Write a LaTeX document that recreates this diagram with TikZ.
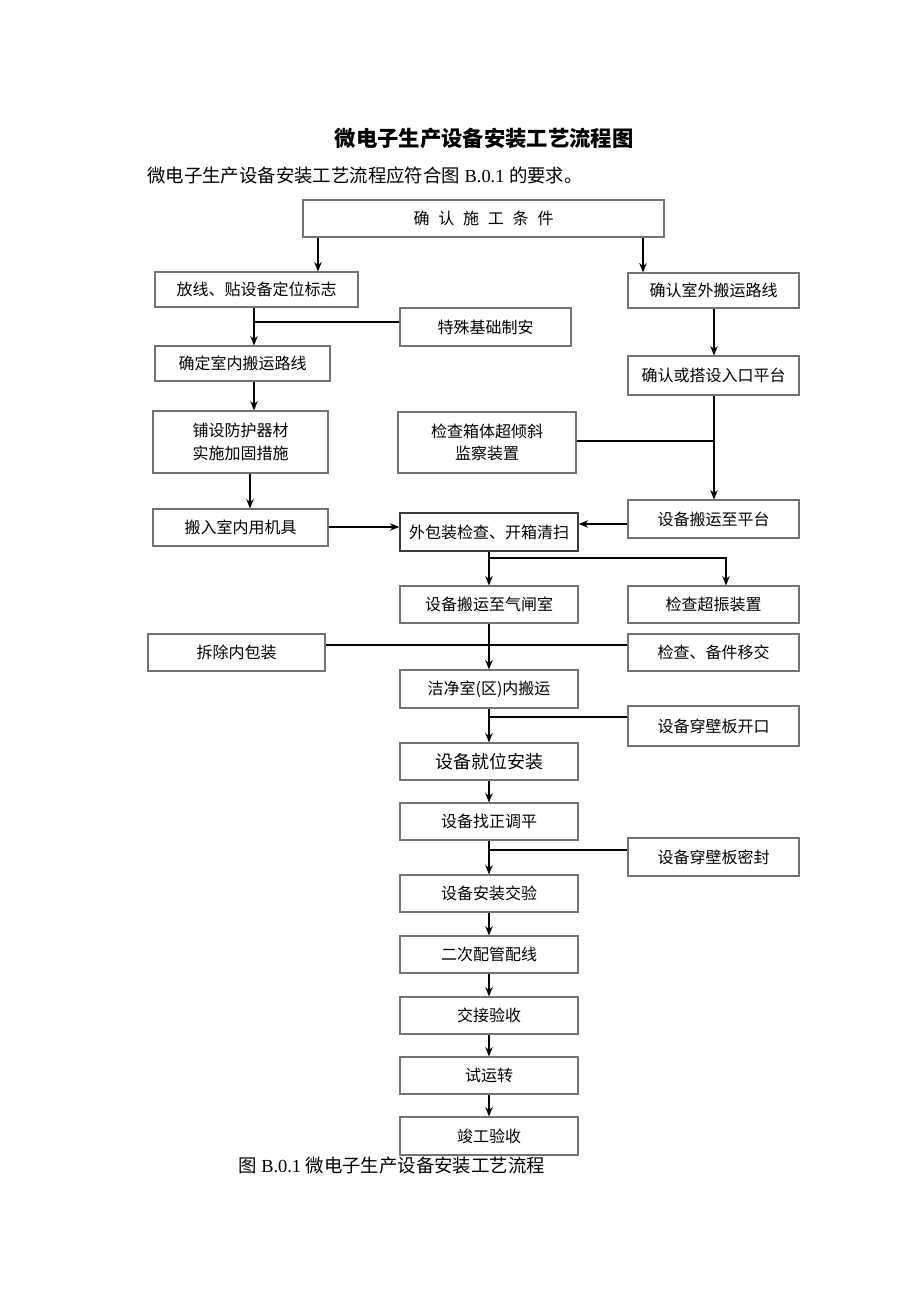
\documentclass[tikz,border=0pt]{standalone}
\usepackage{fontspec}
\setmainfont{Liberation Serif}
\newfontfamily\cjk{Noto Sans CJK SC}
\usetikzlibrary{arrows.meta}
\tikzset{
  box/.style={draw={rgb,255:red,115;green,115;blue,115}, line width=0.8pt, inner sep=0pt, align=center,
    font=\cjk\fontsize{12}{17}\selectfont},
  arr/.style={-{Stealth[length=7pt,width=5.5pt]}, line width=1.3pt},
  ln/.style={line width=1.3pt}
}
\newcommand\mybox[7][]{\node[box,#1,minimum width={(#4-#2)*0.75pt},minimum height={(#5-#3)*0.75pt}] (#6) at ({(#2+#4)/2},{(#3+#5)/2}) {#7};}
\begin{document}
\begin{tikzpicture}[x=0.75pt,y=-0.75pt]
\useasboundingbox[fill=white] (0,0) rectangle (920,1301);
\node[font=\cjk\bfseries\fontsize{16}{18}\selectfont] (title) at (484,138) {微电子生产设备安装工艺流程图};
\node[anchor=west,inner sep=0pt,font=\fontsize{13.8}{16}\selectfont] (sub) at (147,176) {{\cjk 微电子生产设备安装工艺流程应符合图} B.0.1 {\cjk 的要求。}};
% boxes
\mybox{303}{200}{664}{237}{top}{确\hspace{0.55em}认\hspace{0.55em}施\hspace{0.55em}工\hspace{0.55em}条\hspace{0.55em}件}
\mybox{155}{272}{358}{307}{fx}{放线、贴设备定位标志}
\mybox{628}{273}{799}{308}{sw}{确认室外搬运路线}
\mybox{400}{308}{571}{346}{ts}{特殊基础制安}
\mybox{155}{346}{330}{381}{sn}{确定室内搬运路线}
\mybox{628}{356}{799}{395}{rk}{确认或搭设入口平台}
\mybox{153}{411}{328}{473}{ps}{铺设防护器材\\实施加固措施}
\mybox{398}{412}{576}{473}{jc}{检查箱体超倾斜\\监察装置}
\mybox{153}{509}{328}{546}{br}{搬入室内用机具}
\mybox[line width=1.2pt,draw={rgb,255:red,60;green,60;blue,60}]{400}{513}{578}{551}{wb}{外包装检查、开箱清扫}
\mybox{628}{500}{799}{538}{pt}{设备搬运至平台}
\mybox{400}{586}{578}{623}{qz}{设备搬运至气闸室}
\mybox{628}{586}{799}{623}{cz}{检查超振装置}
\mybox{148}{634}{325}{671}{cc}{拆除内包装}
\mybox{628}{634}{799}{671}{bj}{检查、备件移交}
\mybox{400}{670}{578}{708}{jj}{洁净室(区)内搬运}
\mybox{628}{706}{799}{746}{kk}{设备穿壁板开口}
\mybox[font=\cjk\fontsize{13.5}{16}\selectfont]{400}{743}{578}{780}{jw}{设备就位安装}
\mybox{400}{803}{578}{840}{zz}{设备找正调平}
\mybox{628}{838}{799}{876}{mf}{设备穿壁板密封}
\mybox{400}{875}{578}{912}{jy}{设备安装交验}
\mybox{400}{936}{578}{973}{ec}{二次配管配线}
\mybox{400}{997}{578}{1034}{js}{交接验收}
\mybox{400}{1057}{578}{1094}{sy}{试运转}
\mybox{400}{1117}{578}{1155}{jg}{竣工验收}
\node[anchor=west,inner sep=0pt,font=\fontsize{13.8}{16}\selectfont] (cap) at (238,1166) {{\cjk 图} B.0.1 {\cjk 微电子生产设备安装工艺流程}};
% helper positions
\coordinate (xL) at (318,0);
\coordinate (xR) at (643,0);
\coordinate (xA) at (254,0);
\coordinate (xB) at (250,0);
\coordinate (xC) at (726,0);
\coordinate (xD) at (714,0);
\coordinate (yS) at (0,322);
\coordinate (yB) at (0,527);
\coordinate (yJ) at (0,441);
\coordinate (yP) at (0,524);
\coordinate (yW) at (0,558);
\coordinate (yF) at (0,645);
\coordinate (yK) at (0,717);
\coordinate (yM) at (0,850);
% connectors
\draw[arr] (top.south -| xL) -- (fx.north -| xL);
\draw[arr] (top.south -| xR) -- (sw.north -| xR);
\draw[arr] (fx.south -| xA) -- (sn.north -| xA);
\draw[ln] (ts.west |- yS) -- (xA |- yS);
\draw[arr] (sn.south -| xA) -- (ps.north -| xA);
\draw[arr] (ps.south -| xB) -- (br.north -| xB);
\draw[arr] (br.east |- yB) -- (wb.west |- yB);
\draw[arr] (sw.south -| xD) -- (rk.north -| xD);
\draw[arr] (rk.south -| xD) -- (pt.north -| xD);
\draw[ln] (jc.east |- yJ) -- (xD |- yJ);
\draw[arr] (pt.west |- yP) -- (wb.east |- yP);
\draw[arr] (wb.south) -- (qz.north);
\draw[arr] (wb.south |- yW) -- (xC |- yW) -- (cz.north -| xC);
\draw[arr] (qz.south) -- (jj.north);
\draw[ln] (cc.east |- yF) -- (bj.west |- yF);
\draw[arr] (jj.south) -- (jw.north);
\draw[ln] (jj.south |- yK) -- (kk.west |- yK);
\draw[arr] (jw.south) -- (zz.north);
\draw[arr] (zz.south) -- (jy.north);
\draw[ln] (zz.south |- yM) -- (mf.west |- yM);
\draw[arr] (jy.south) -- (ec.north);
\draw[arr] (ec.south) -- (js.north);
\draw[arr] (js.south) -- (sy.north);
\draw[arr] (sy.south) -- (jg.north);
\end{tikzpicture}
\end{document}
